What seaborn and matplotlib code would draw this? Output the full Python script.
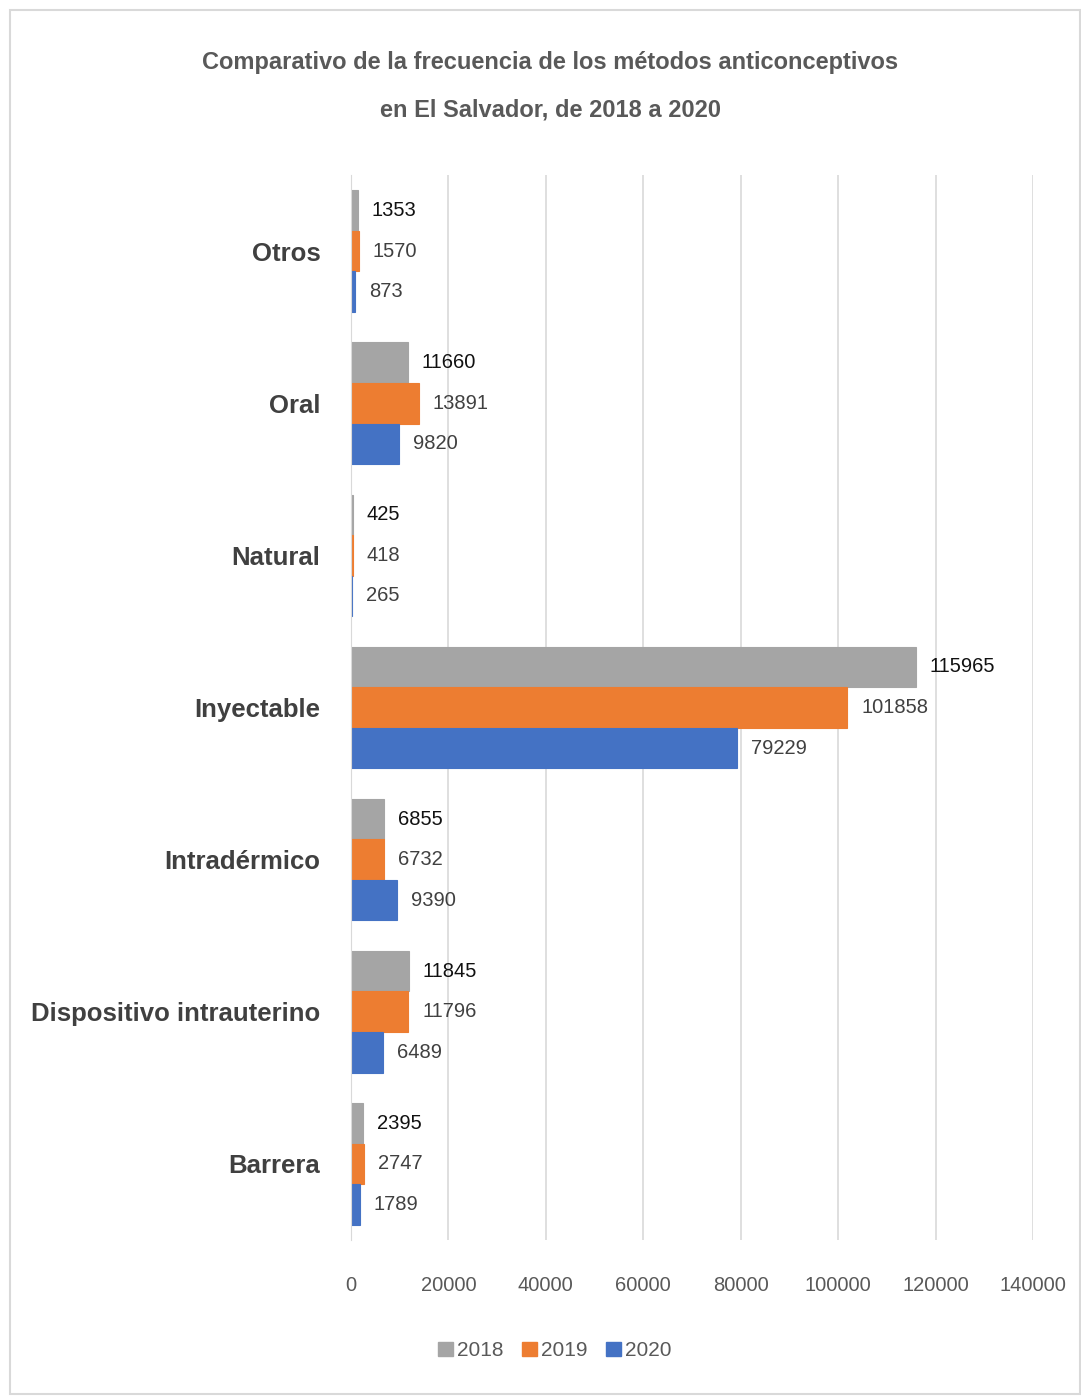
import pandas as pd
import matplotlib.pyplot as plt
import seaborn as sns
from matplotlib.patches import Rectangle

categorias = ['Otros', 'Oral', 'Natural', 'Inyectable', 'Intradérmico',
              'Dispositivo intrauterino', 'Barrera']
anios = ['2018', '2019', '2020']
v2018 = [1353, 11660, 425, 115965, 6855, 11845, 2395]
v2019 = [1570, 13891, 418, 101858, 6732, 11796, 2747]
v2020 = [873, 9820, 265, 79229, 9390, 6489, 1789]
colores = ['#A5A5A5', '#ED7D31', '#4472C4']

df = pd.DataFrame({'Metodo': categorias * 3,
                   'Anio': [a for a in anios for _ in categorias],
                   'Valor': v2018 + v2019 + v2020})

sns.set_style('white')
plt.rcParams['font.family'] = ['Liberation Sans', 'DejaVu Sans']

fig = plt.figure(figsize=(10.81, 13.97), dpi=100)
ax = fig.add_axes([0.3247, 0.1124, 0.6309, 0.7623])
sns.barplot(data=df, y='Metodo', x='Valor', hue='Anio', orient='h',
            palette=colores, saturation=1, width=0.8, linewidth=0,
            ax=ax, legend=False)

# borde del mismo color para que las barras muy finas sigan visibles
for cont in ax.containers:
    for b in cont:
        b.set_edgecolor(b.get_facecolor())
        b.set_linewidth(0.8)

ax.set_xlim(0, 140000)
ax.set_xticks(range(0, 140001, 20000))
ax.xaxis.grid(True, color='#D9D9D9', linewidth=1.2)
ax.set_axisbelow(True)
for s in ['top', 'right', 'bottom']:
    ax.spines[s].set_visible(False)
ax.spines['left'].set_color('#D9D9D9')
ax.set_xlabel('')
ax.set_ylabel('')
ax.tick_params(axis='x', labelsize=14.5, colors='#595959', length=0, pad=26)
ax.tick_params(axis='y', labelsize=18.5, colors='#404040', length=0, pad=22)
for t in ax.get_yticklabels():
    t.set_fontweight('bold')

for i, cont in enumerate(ax.containers):
    col = '#111111' if i == 0 else '#404040'
    ax.bar_label(cont, labels=[str(int(b.get_width())) for b in cont],
                 padding=10, fontsize=14.5, color=col)

handles = [Rectangle((0, 0), 1, 1, color=c) for c in colores]
fig.legend(handles, anios, loc='center', bbox_to_anchor=(0.513, 0.033), ncol=3,
           frameon=False, fontsize=15, handlelength=0.7, handleheight=0.7,
           handletextpad=0.2, columnspacing=0.9, labelcolor='#595959')

fig.text(0.509, 0.955, 'Comparativo de la frecuencia de los métodos anticonceptivos',
         ha='center', va='center', fontsize=17, color='#595959', fontweight='bold')
fig.text(0.509, 0.921, 'en El Salvador, de 2018 a 2020',
         ha='center', va='center', fontsize=17, color='#595959', fontweight='bold')

fig.patches.append(Rectangle((0.009, 0.002), 0.99, 0.991, transform=fig.transFigure,
                             fill=False, edgecolor='#D9D9D9', linewidth=1.5))

fig.savefig('out.png', dpi=100)
